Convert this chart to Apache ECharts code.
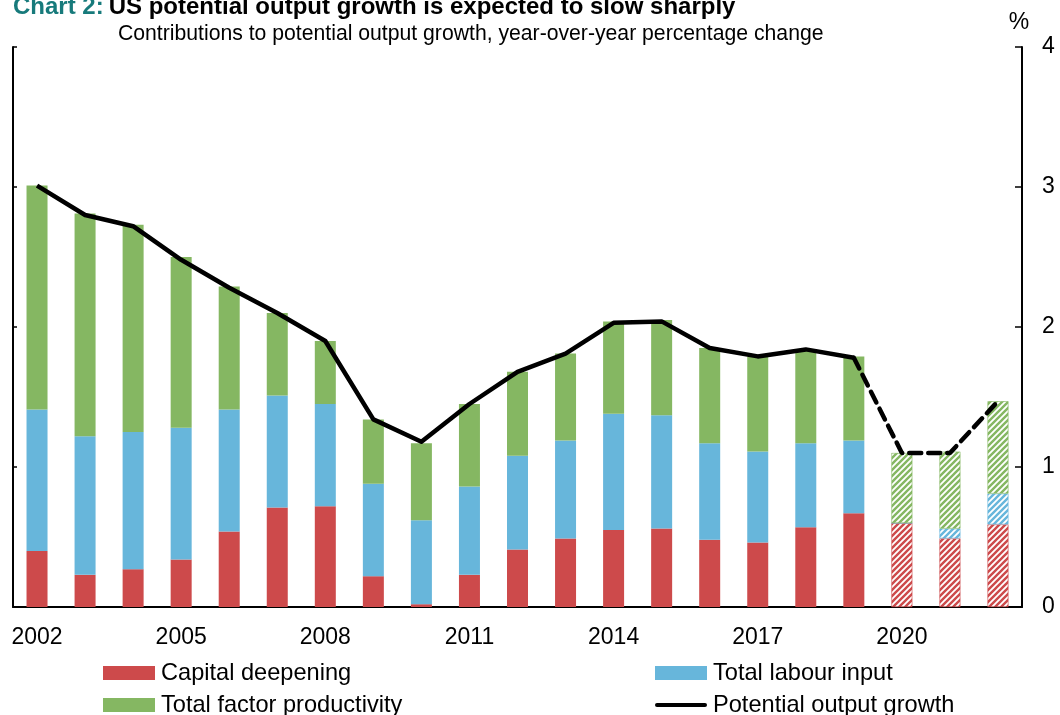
<!DOCTYPE html>
<html>
<head>
<meta charset="utf-8">
<script src="https://cdn.jsdelivr.net/npm/echarts@6/dist/echarts.min.js"></script>
<style>
  html, body { margin: 0; padding: 0; background: #fff; }
  #chart { width: 1060px; height: 715px; }
</style>
</head>
<body>
<div id="chart"></div>
<script>
const years = ["2002", "2003", "2004", "2005", "2006", "2007", "2008", "2009", "2010", "2011",
  "2012", "2013", "2014", "2015", "2016", "2017", "2018", "2019", "2020", "2021", "2022"];
const capitalDeepening = [0.40, 0.23, 0.27, 0.34, 0.54, 0.71, 0.72, 0.22, 0.02, 0.23,
  0.41, 0.49, 0.55, 0.56, 0.48, 0.46, 0.57, 0.67, 0.60, 0.49, 0.59];
const labourInput = [1.01, 0.99, 0.98, 0.94, 0.87, 0.80, 0.73, 0.66, 0.60, 0.63,
  0.67, 0.70, 0.83, 0.81, 0.69, 0.65, 0.60, 0.52, 0.00, 0.07, 0.22];
const tfp = [1.60, 1.59, 1.48, 1.22, 0.88, 0.59, 0.45, 0.46, 0.55, 0.59,
  0.60, 0.62, 0.66, 0.68, 0.68, 0.68, 0.67, 0.60, 0.50, 0.55, 0.66];
const potentialGrowth = [3.01, 2.80, 2.72, 2.48, 2.28, 2.10, 1.90, 1.34, 1.18, 1.45,
  1.68, 1.81, 2.03, 2.04, 1.85, 1.79, 1.84, 1.78, 1.10, 1.10, 1.47];
const yTicks = [0, 1, 2, 3, 4];
// first projected year (hatched bars, dashed line)
const projStart = years.indexOf("2020");

const RED = "#CD4A4B", BLUE = "#67B6DB", GREEN = "#85B762";
const FONT = "Liberation Sans";

// diagonal hatch tile
function hatch(color) {
  const c = document.createElement("canvas");
  c.width = 6; c.height = 6;
  const ctx = c.getContext("2d");
  ctx.fillStyle = "#fff";
  ctx.fillRect(0, 0, 6, 6);
  ctx.strokeStyle = color;
  ctx.lineWidth = 2.4;
  ctx.beginPath();
  ctx.moveTo(-1, 7); ctx.lineTo(7, -1);
  ctx.moveTo(-4, 4); ctx.lineTo(4, -4);
  ctx.moveTo(2, 10); ctx.lineTo(10, 2);
  ctx.stroke();
  return { image: c, repeat: "repeat" };
}

function barData(values, color) {
  const pat = hatch(color);
  return values.map((v, i) => i >= projStart
    ? { value: v, itemStyle: { color: pat, borderColor: color, borderWidth: 0.6 } }
    : v);
}

const solidLine = potentialGrowth.map((v, i) => (i < projStart ? v : "-"));
const dashedLine = potentialGrowth.map((v, i) => (i >= projStart - 1 ? v : "-"));

const legendText = { fontSize: 23.6, color: "#000", fontFamily: FONT, padding: [0, 0, 0, 1] };

const chart = echarts.init(document.getElementById("chart"));
chart.setOption({
  animation: false,
  backgroundColor: "#fff",
  textStyle: { fontFamily: FONT },
  title: [
    {
      left: 8, top: -10,
      text: "{a|Chart 2:} {b|US potential output growth is expected to slow sharply}",
      textStyle: {
        rich: {
          a: { color: "#177A7B", fontSize: 24, fontWeight: "bold", fontFamily: FONT },
          b: { color: "#000", fontSize: 24, fontWeight: "bold", fontFamily: FONT }
        }
      }
    },
    {
      left: 113, top: 19,
      text: "Contributions to potential output growth, year-over-year percentage change",
      textStyle: { color: "#000", fontSize: 21.2, fontWeight: "normal", fontFamily: FONT }
    }
  ],
  legend: [
    {
      orient: "vertical", left: 103, top: 661, height: 90, padding: 0,
      itemWidth: 52, itemHeight: 14, itemGap: 8,
      textStyle: legendText,
      data: [
        { name: "Capital deepening", icon: "rect" },
        { name: "Total factor productivity", icon: "rect" }
      ]
    },
    {
      orient: "vertical", left: 655, top: 661, height: 90, padding: 0,
      itemWidth: 52, itemHeight: 14, itemGap: 8,
      textStyle: legendText,
      data: [
        { name: "Total labour input", icon: "rect" },
        { name: "Potential output growth",
          icon: "path://M2,0 L50,0 A2,2 0 0 1 50,4 L2,4 A2,2 0 0 1 2,0 Z" }
      ]
    }
  ],
  grid: { left: 13, right: 38, top: 47, bottom: 108 },
  xAxis: {
    type: "category",
    data: years,
    boundaryGap: true,
    axisLine: { lineStyle: { color: "#000", width: 2 } },
    axisTick: { inside: true, length: 5, interval: 0, lineStyle: { color: "#000", width: 1.5 } },
    axisLabel: { interval: 2, color: "#000", fontSize: 23, margin: 19, fontFamily: FONT }
  },
  yAxis: [
    {
      type: "value", position: "right",
      min: yTicks[0], max: yTicks[yTicks.length - 1], interval: 1,
      name: "%", nameLocation: "end", nameGap: 13,
      nameTextStyle: { color: "#000", fontSize: 23, align: "center", padding: [0, 6, 0, 0], fontFamily: FONT },
      axisLine: { show: true, lineStyle: { color: "#000", width: 2 } },
      axisTick: { show: true, inside: true, length: 7, lineStyle: { color: "#000", width: 1.5 } },
      axisLabel: { color: "#000", fontSize: 23, margin: 20, fontFamily: FONT },
      splitLine: { show: false }
    },
    {
      type: "value", position: "left",
      min: yTicks[0], max: yTicks[yTicks.length - 1], interval: 1,
      axisLine: { show: true, lineStyle: { color: "#000", width: 2 } },
      axisTick: { show: true, inside: true, length: 4, lineStyle: { color: "#000", width: 1.5 } },
      axisLabel: { show: false },
      splitLine: { show: false }
    }
  ],
  series: [
    {
      name: "Capital deepening", type: "bar", stack: "c", barWidth: 21,
      itemStyle: { color: RED }, data: barData(capitalDeepening, RED)
    },
    {
      name: "Total labour input", type: "bar", stack: "c", barWidth: 21,
      itemStyle: { color: BLUE }, data: barData(labourInput, BLUE)
    },
    {
      name: "Total factor productivity", type: "bar", stack: "c", barWidth: 21,
      itemStyle: { color: GREEN }, data: barData(tfp, GREEN)
    },
    {
      name: "Potential output growth", type: "line", data: solidLine,
      symbol: "none", itemStyle: { color: "#000" },
      lineStyle: { color: "#000", width: 4.5, join: "round" }, z: 5
    },
    {
      name: "Potential output growth (projection)", type: "line", data: dashedLine,
      symbol: "none", itemStyle: { color: "#000" },
      lineStyle: { color: "#000", width: 4.5, type: [12, 7], cap: "round" }, z: 5
    }
  ]
});
</script>
</body>
</html>
